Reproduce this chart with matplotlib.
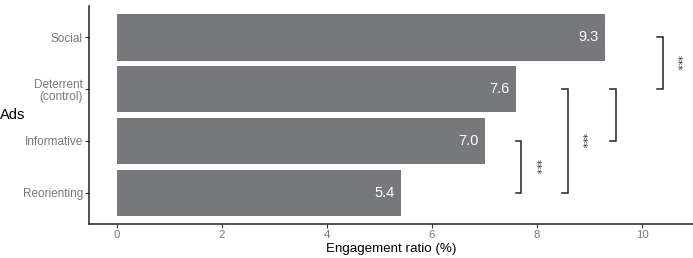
import numpy as np
import matplotlib
matplotlib.use('Agg')
import matplotlib.pyplot as plt

plt.rcParams['font.family'] = ['Liberation Sans', 'DejaVu Sans']

# Datos
ads = ['Social', 'Deterrent\n(control)', 'Informative', 'Reorienting']
engagement = [9.3, 7.6, 7.0, 5.4]
# comparaciones: (indice a, indice b, posicion x, etiqueta)
brackets = [(2, 3, 7.70, '***'), (1, 3, 8.59, '***'), (1, 2, 9.50, ''), (0, 1, 10.40, '***')]

fig = plt.figure(figsize=(6.93, 2.58), dpi=100)
ax = fig.add_axes([89 / 693, 1 - 224 / 258, 1 - 89 / 693, 218 / 258])

y = np.arange(len(ads))
ax.barh(y, engagement, height=0.9, color='#77787b', edgecolor='none')
for yi, v in zip(y, engagement):
    ax.text(v - 0.12, yi, f'{v:.1f}', color='white', fontsize=10.5,
            ha='right', va='center')

tick = 0.11
for a, b, xb, lab in brackets:
    ax.plot([xb - tick, xb, xb, xb - tick], [a, a, b, b], color='#222222', lw=1.1,
            solid_joinstyle='miter')
    if lab:
        ax.text(xb + 0.27, (a + b) / 2, lab, rotation=270, ha='center', va='center',
                fontsize=7.5, color='#333333', family='DejaVu Sans')

ax.set_ylim(len(ads) - 0.4, -0.6)
ax.set_xlim(-0.533, 10.97)
ax.set_yticks(y)
ax.set_yticklabels(ads, color='#777777', fontsize=8.5, linespacing=1.0)
ax.set_xticks([0, 2, 4, 6, 8, 10])
ax.set_xticklabels(['0', '2', '4', '6', '8', '10'], color='#777777', fontsize=8.2)
ax.tick_params(length=3, width=0.8, color='#333333', pad=1.5)
ax.set_xlabel('Engagement ratio (%)', fontsize=9.6)
ax.xaxis.set_label_coords(0.5, -0.1147)
ax.xaxis.label.set_va('center')
ax.set_ylabel('Ads', fontsize=10.5, rotation=0, ha='left', va='center')
ax.yaxis.set_label_coords(-89 / 604, 0.5)
for s in ['top', 'right']:
    ax.spines[s].set_visible(False)
for s in ['left', 'bottom']:
    ax.spines[s].set_color('#222222')
    ax.spines[s].set_linewidth(1.1)

plt.savefig('out.png', dpi=100)
